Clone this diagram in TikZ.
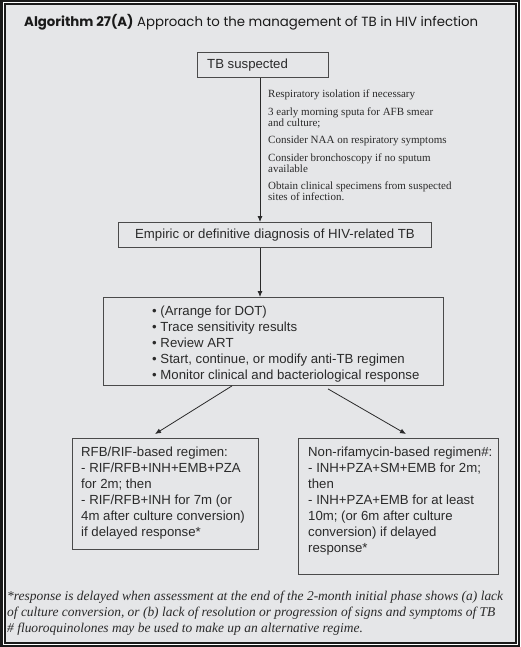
\documentclass[tikz,border=0pt]{standalone}
\usepackage{fontspec}
\setmainfont{Liberation Serif}
\setsansfont{Liberation Sans}
\newfontfamily\titlefont{Poppins}
\usetikzlibrary{arrows.meta,calc}
\definecolor{bg}{HTML}{E5E6E8}
\definecolor{ink}{HTML}{2A2A2A}
\definecolor{frameblk}{HTML}{1A1A1A}
\begin{document}
\begin{tikzpicture}[x=1pt,y=-1pt,
  box/.style={draw=ink!85, line width=0.9pt, fill=none, inner sep=0pt},
  sanstext/.style={font=\sffamily\fontsize{13.2}{16}\selectfont, text=ink, inner sep=0pt, align=left},
  serifnote/.style={font=\rmfamily\fontsize{11}{11}\selectfont, text=ink, inner sep=0pt, align=left},
  arr/.style={draw=ink, line width=0.8pt, -{Latex[length=6pt,width=5pt]}}]
% frame
\fill[frameblk] (0,0) rectangle (520,647);
\fill[white] (2.5,2.5) rectangle (517.5,644.5);
\fill[frameblk] (3.5,3.5) rectangle (516.5,643.5);
\fill[bg] (5.5,5.5) rectangle (514.5,641.5);
\useasboundingbox (0,0) rectangle (520,647);
% title
\node[anchor=base west, inner sep=0pt, text=frameblk, font=\titlefont\fontsize{13.3}{16}\selectfont] (title) at (24,27)
  {\textbf{Algorithm 27(A)} Approach to the management of TB in HIV infection};
% TB suspected
\node[box, anchor=north west, minimum width=131, minimum height=25] (s1) at (197,52) {};
\node[sanstext, anchor=base west] (s1t) at (207,69) {TB suspected};
% side notes
\node[serifnote, anchor=north west] (notes) at (268,90)
  {Respiratory isolation if necessary\\[6.5pt]
   3 early morning sputa for AFB smear\\
   and culture;\\[6.5pt]
   Consider NAA on respiratory symptoms\\[6.5pt]
   Consider bronchoscopy if no sputum\\
   available\\[6.5pt]
   Obtain clinical specimens from suspected\\
   sites of infection.};
% Empiric
\node[box, anchor=north west, minimum width=313, minimum height=25] (b2) at (118,222) {};
\node[sanstext, anchor=center] (b2t) at (b2.center) {Empiric or definitive diagnosis of HIV-related TB};
% box 3
\node[box, anchor=north west, minimum width=340, minimum height=88] (b3) at (103,297) {};
\node[sanstext, anchor=north west] (b3t) at (152,306)
  {\textbullet\ (Arrange for DOT)\\
   \textbullet\ Trace sensitivity results\\
   \textbullet\ Review ART\\
   \textbullet\ Start, continue, or modify anti-TB regimen\\
   \textbullet\ Monitor clinical and bacteriological response};
% left regimen
\node[box, anchor=north west, minimum width=186, minimum height=111] (b4) at (72,438) {};
\node[sanstext, anchor=north west] (b4t) at (81,447)
  {RFB/RIF-based regimen:\\
   - RIF/RFB+INH+EMB+PZA\\
   for 2m; then\\
   - RIF/RFB+INH for 7m (or\\
   4m after culture conversion)\\
   if delayed response*};
% right regimen
\node[box, anchor=north west, minimum width=200, minimum height=136] (b5) at (298,438) {};
\node[sanstext, anchor=north west] (b5t) at (308,447)
  {Non-rifamycin-based regimen\#:\\
   - INH+PZA+SM+EMB for 2m;\\
   then\\
   - INH+PZA+EMB for at least\\
   10m; (or 6m after culture\\
   conversion) if delayed\\
   response*};
% connectors
\coordinate (cx) at (260,0);
\draw[arr] (s1.south -| cx) -- (b2.north -| cx);
\draw[arr] (b2.south -| cx) -- (b3.north -| cx);
\draw[arr] ($(b3.south west)+(129,0)$) -- ($(b4.north west)+(83,-4)$);
\draw[arr] ($(b3.south west)+(225,3)$) -- ($(b5.north west)+(108,-4)$);
% footnote
\node[anchor=north west, inner sep=0pt, text=ink, align=left, font=\rmfamily\itshape\fontsize{13.45}{16}\selectfont] (foot) at (7,591)
  {*response is delayed when assessment at the end of the 2-month initial phase shows (a) lack\\
   of culture conversion, or (b) lack of resolution or progression of signs and symptoms of TB\\
   \# fluoroquinolones may be used to make up an alternative regime.};
\end{tikzpicture}
\end{document}
